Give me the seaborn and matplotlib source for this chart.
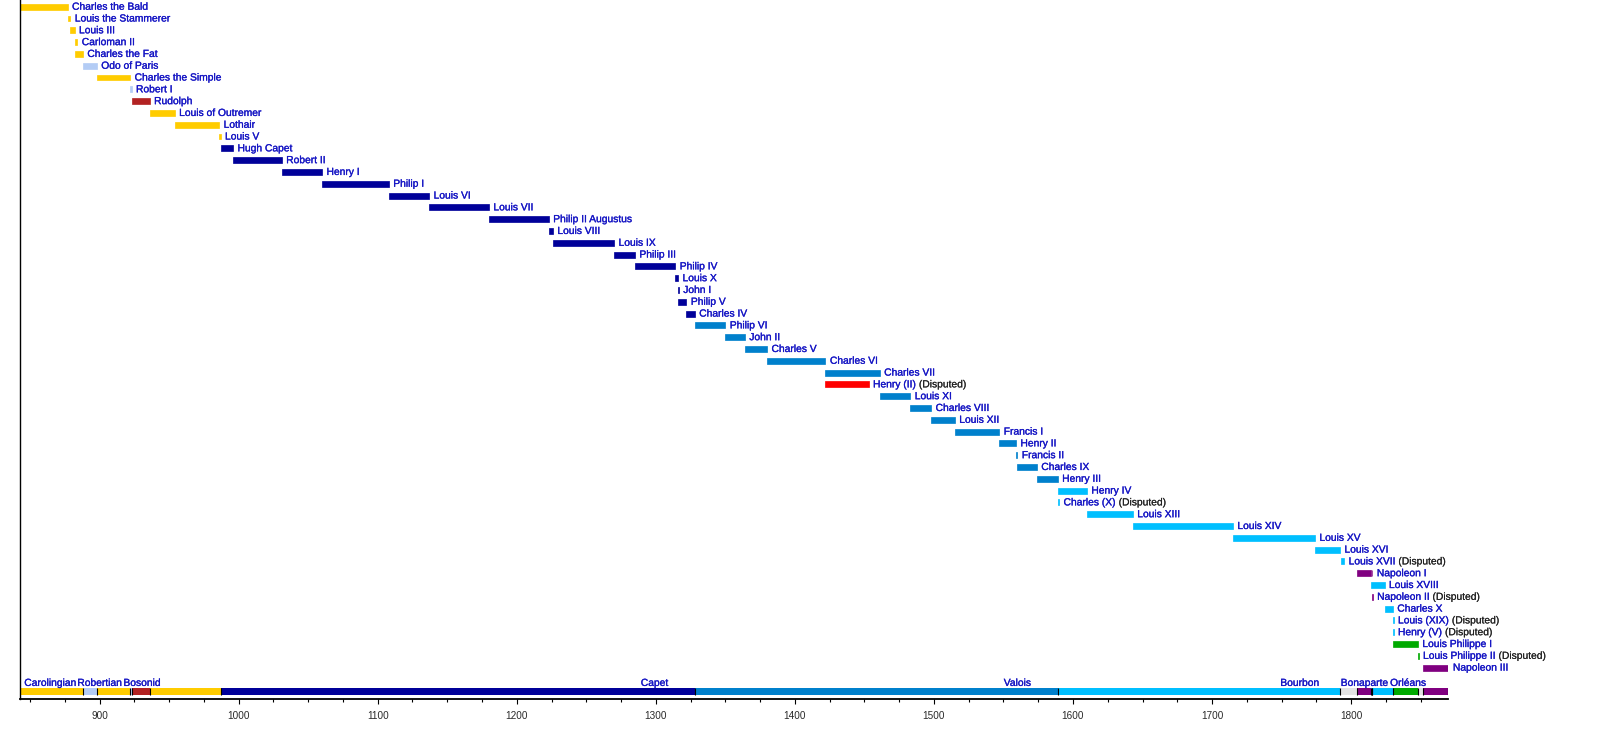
import matplotlib
matplotlib.use("Agg")
import matplotlib.pyplot as plt
import matplotlib.patheffects as pe
from matplotlib.ticker import MultipleLocator, NullLocator
import seaborn as sns

# ---------------- data ----------------
names = [
    "Charles the Bald", "Louis the Stammerer", "Louis III", "Carloman II", "Charles the Fat",
    "Odo of Paris", "Charles the Simple", "Robert I", "Rudolph", "Louis of Outremer",
    "Lothair", "Louis V",
    "Hugh Capet", "Robert II", "Henry I", "Philip I", "Louis VI", "Louis VII",
    "Philip II Augustus", "Louis VIII", "Louis IX", "Philip III", "Philip IV", "Louis X",
    "John I", "Philip V", "Charles IV",
    "Philip VI", "John II", "Charles V", "Charles VI", "Charles VII", "Henry (II)",
    "Louis XI", "Charles VIII", "Louis XII", "Francis I", "Henry II", "Francis II",
    "Charles IX", "Henry III",
    "Henry IV", "Charles (X)", "Louis XIII", "Louis XIV", "Louis XV", "Louis XVI",
    "Louis XVII", "Napoleon I", "Louis XVIII", "Napoleon II", "Charles X", "Louis (XIX)",
    "Henry (V)", "Louis Philippe I", "Louis Philippe II", "Napoleon III",
]
reign_start = [
    843, 877, 879, 882, 882,
    888, 898, 922, 923, 936,
    954, 986,
    987, 996, 1031, 1060, 1108, 1137,
    1180, 1223, 1226, 1270, 1285, 1314,
    1316, 1316, 1322,
    1328, 1350, 1364, 1380, 1422, 1422,
    1461, 1483, 1498, 1515, 1547, 1559,
    1560, 1574,
    1589, 1589, 1610, 1643, 1715, 1774,
    1793, 1804, 1814, 1815, 1824, 1830,
    1830, 1830, 1848, 1852,
]
reign_end = [
    877, 879, 882, 884, 888,
    898, 922, 923, 936, 954,
    986, 987,
    996, 1031, 1060, 1108, 1137, 1180,
    1223, 1226, 1270, 1285, 1314, 1316,
    1316.5, 1322, 1328,
    1350, 1364, 1380, 1422, 1461, 1453,
    1483, 1498, 1515, 1547, 1559, 1560,
    1574, 1589,
    1610, 1590, 1643, 1715, 1774, 1792,
    1795, 1814, 1824, 1815.5, 1830, 1830.5,
    1830.5, 1848, 1848.5, 1870,
]
house = (["Carolingian"] * 5 + ["Robertian", "Carolingian", "Robertian", "Bosonid",
         "Carolingian", "Carolingian", "Carolingian"]
         + ["Capet"] * 15
         + ["Valois"] * 5 + ["Lancaster"] + ["Valois"] * 8
         + ["Bourbon"] * 7 + ["Bonaparte", "Bourbon", "Bonaparte", "Bourbon", "Bourbon",
                              "Bourbon", "Orléans", "Orléans", "Bonaparte"])
disputed = ["Henry (II)", "Charles (X)", "Louis XVII", "Napoleon II", "Louis (XIX)",
            "Henry (V)", "Louis Philippe II"]

# second reign segment (Hundred Days)
extra_name = ["Napoleon I"]
extra_start = [1815]
extra_end = [1815.3]

# dynasty strip
era_house = ["Carolingian", "Robertian", "Carolingian", "Robertian", "Bosonid",
             "Carolingian", "Capet", "Valois", "Bourbon", "Gap", "Bonaparte", "Bourbon",
             "Bonaparte", "Bourbon", "Orléans", "Gap", "Bonaparte"]
era_start = [843, 888, 898, 922, 923, 936, 987, 1328, 1589, 1792, 1804, 1814, 1815,
             1815.3, 1830, 1848, 1852]
era_end = [888, 898, 922, 923, 936, 987, 1328, 1589, 1792, 1804, 1814, 1815, 1815.3,
           1830, 1848, 1852, 1870]
era_label = ["Carolingian", "Robertian", "Bosonid", "Capet", "Valois", "Bourbon",
             "Bonaparte", "Orléans"]
era_label_year = [864.5, 900, 930.5, 1299, 1560, 1763, 1809.5, 1841]

house_colors = {
    "Carolingian": "#FFCC00",
    "Robertian": "#B3CCF5",
    "Bosonid": "#B22222",
    "Capet": "#000099",
    "Valois": "#0080CC",
    "Lancaster": "#FF0000",
    "Bourbon": "#00BFFF",
    "Bonaparte": "#800080",
    "Orléans": "#00AA00",
    "Gap": "#E4E4E4",
}

NAME_COLOR = "#1616C4"
DISP_COLOR = "#222222"
FS = 7.4

# ---------------- plot ----------------
sns.set_theme(style="white")
plt.rcParams["font.family"] = ["Liberation Sans", "DejaVu Sans"]

fig = plt.figure(figsize=(16, 7.49), dpi=100)
ax = fig.add_axes([0.0127, 0.0672, 0.8926, 0.9328])

rows = list(range(len(names)))
row_of = {n: i for i, n in enumerate(names)}
colors = [house_colors[h] for h in house]

bar_h = 0.5
ax.barh(rows, [e - s for s, e in zip(reign_start, reign_end)], left=reign_start,
        height=bar_h, color=colors, edgecolor=colors, linewidth=0.5)
ax.barh([row_of[n] for n in extra_name], [e - s for s, e in zip(extra_start, extra_end)],
        left=extra_start, height=bar_h,
        color=[colors[row_of[n]] for n in extra_name],
        edgecolor=[colors[row_of[n]] for n in extra_name], linewidth=0.5)

label_end = list(reign_end)
for n, e in zip(extra_name, extra_end):
    label_end[row_of[n]] = max(label_end[row_of[n]], e)

name_fx = [pe.withStroke(linewidth=0.2, foreground=NAME_COLOR)]
disp_fx = [pe.withStroke(linewidth=0.1, foreground=DISP_COLOR)]

for i, n in enumerate(names):
    t = ax.annotate(n, xy=(label_end[i], i), xytext=(3.2, 0), textcoords="offset points",
                    ha="left", va="center", color=NAME_COLOR, fontsize=FS,
                    path_effects=name_fx)
    if n in disputed:
        ax.annotate(" (Disputed)", xy=(1, 0), xycoords=t, ha="left", va="bottom",
                    color=DISP_COLOR, fontsize=FS, path_effects=disp_fx)

# dynasty strip
strip_y = len(names) + 1
strip_h = 0.57
era_colors = [house_colors[h] for h in era_house]
ax.barh([strip_y] * len(era_start), [e - s for s, e in zip(era_start, era_end)],
        left=era_start, height=strip_h, color=era_colors, linewidth=0)
ax.vlines(era_end[:-1] + [era_end[-1] - 0.3], strip_y - strip_h / 2, strip_y + strip_h / 2,
          color="black", linewidth=0.8)
for lab, yr in zip(era_label, era_label_year):
    ax.text(yr, strip_y - 0.45, lab, ha="center", va="baseline", color=NAME_COLOR,
            fontsize=FS, path_effects=name_fx)

ax.set_xlim(843, 1870)
ax.set_ylim(strip_y + 0.63, -0.57)

ax.xaxis.set_major_locator(MultipleLocator(100))
ax.xaxis.set_minor_locator(MultipleLocator(25))
ax.yaxis.set_major_locator(NullLocator())
ax.tick_params(axis="x", which="major", direction="out", length=3.6, width=0.8,
               color="black", pad=5, labelsize=7.2, labelcolor="#2a2a2a", bottom=True)
ax.tick_params(axis="x", which="minor", direction="out", length=2.2, width=0.8,
               color="black", bottom=True)

sns.despine(ax=ax, top=True, right=True)
ax.spines["left"].set_color("black")
ax.spines["left"].set_linewidth(1.0)
ax.spines["bottom"].set_color("black")
ax.spines["bottom"].set_linewidth(1.3)
ax.grid(False)
ax.set_xlabel("")
ax.set_ylabel("")

fig.savefig("out.png", dpi=100)
